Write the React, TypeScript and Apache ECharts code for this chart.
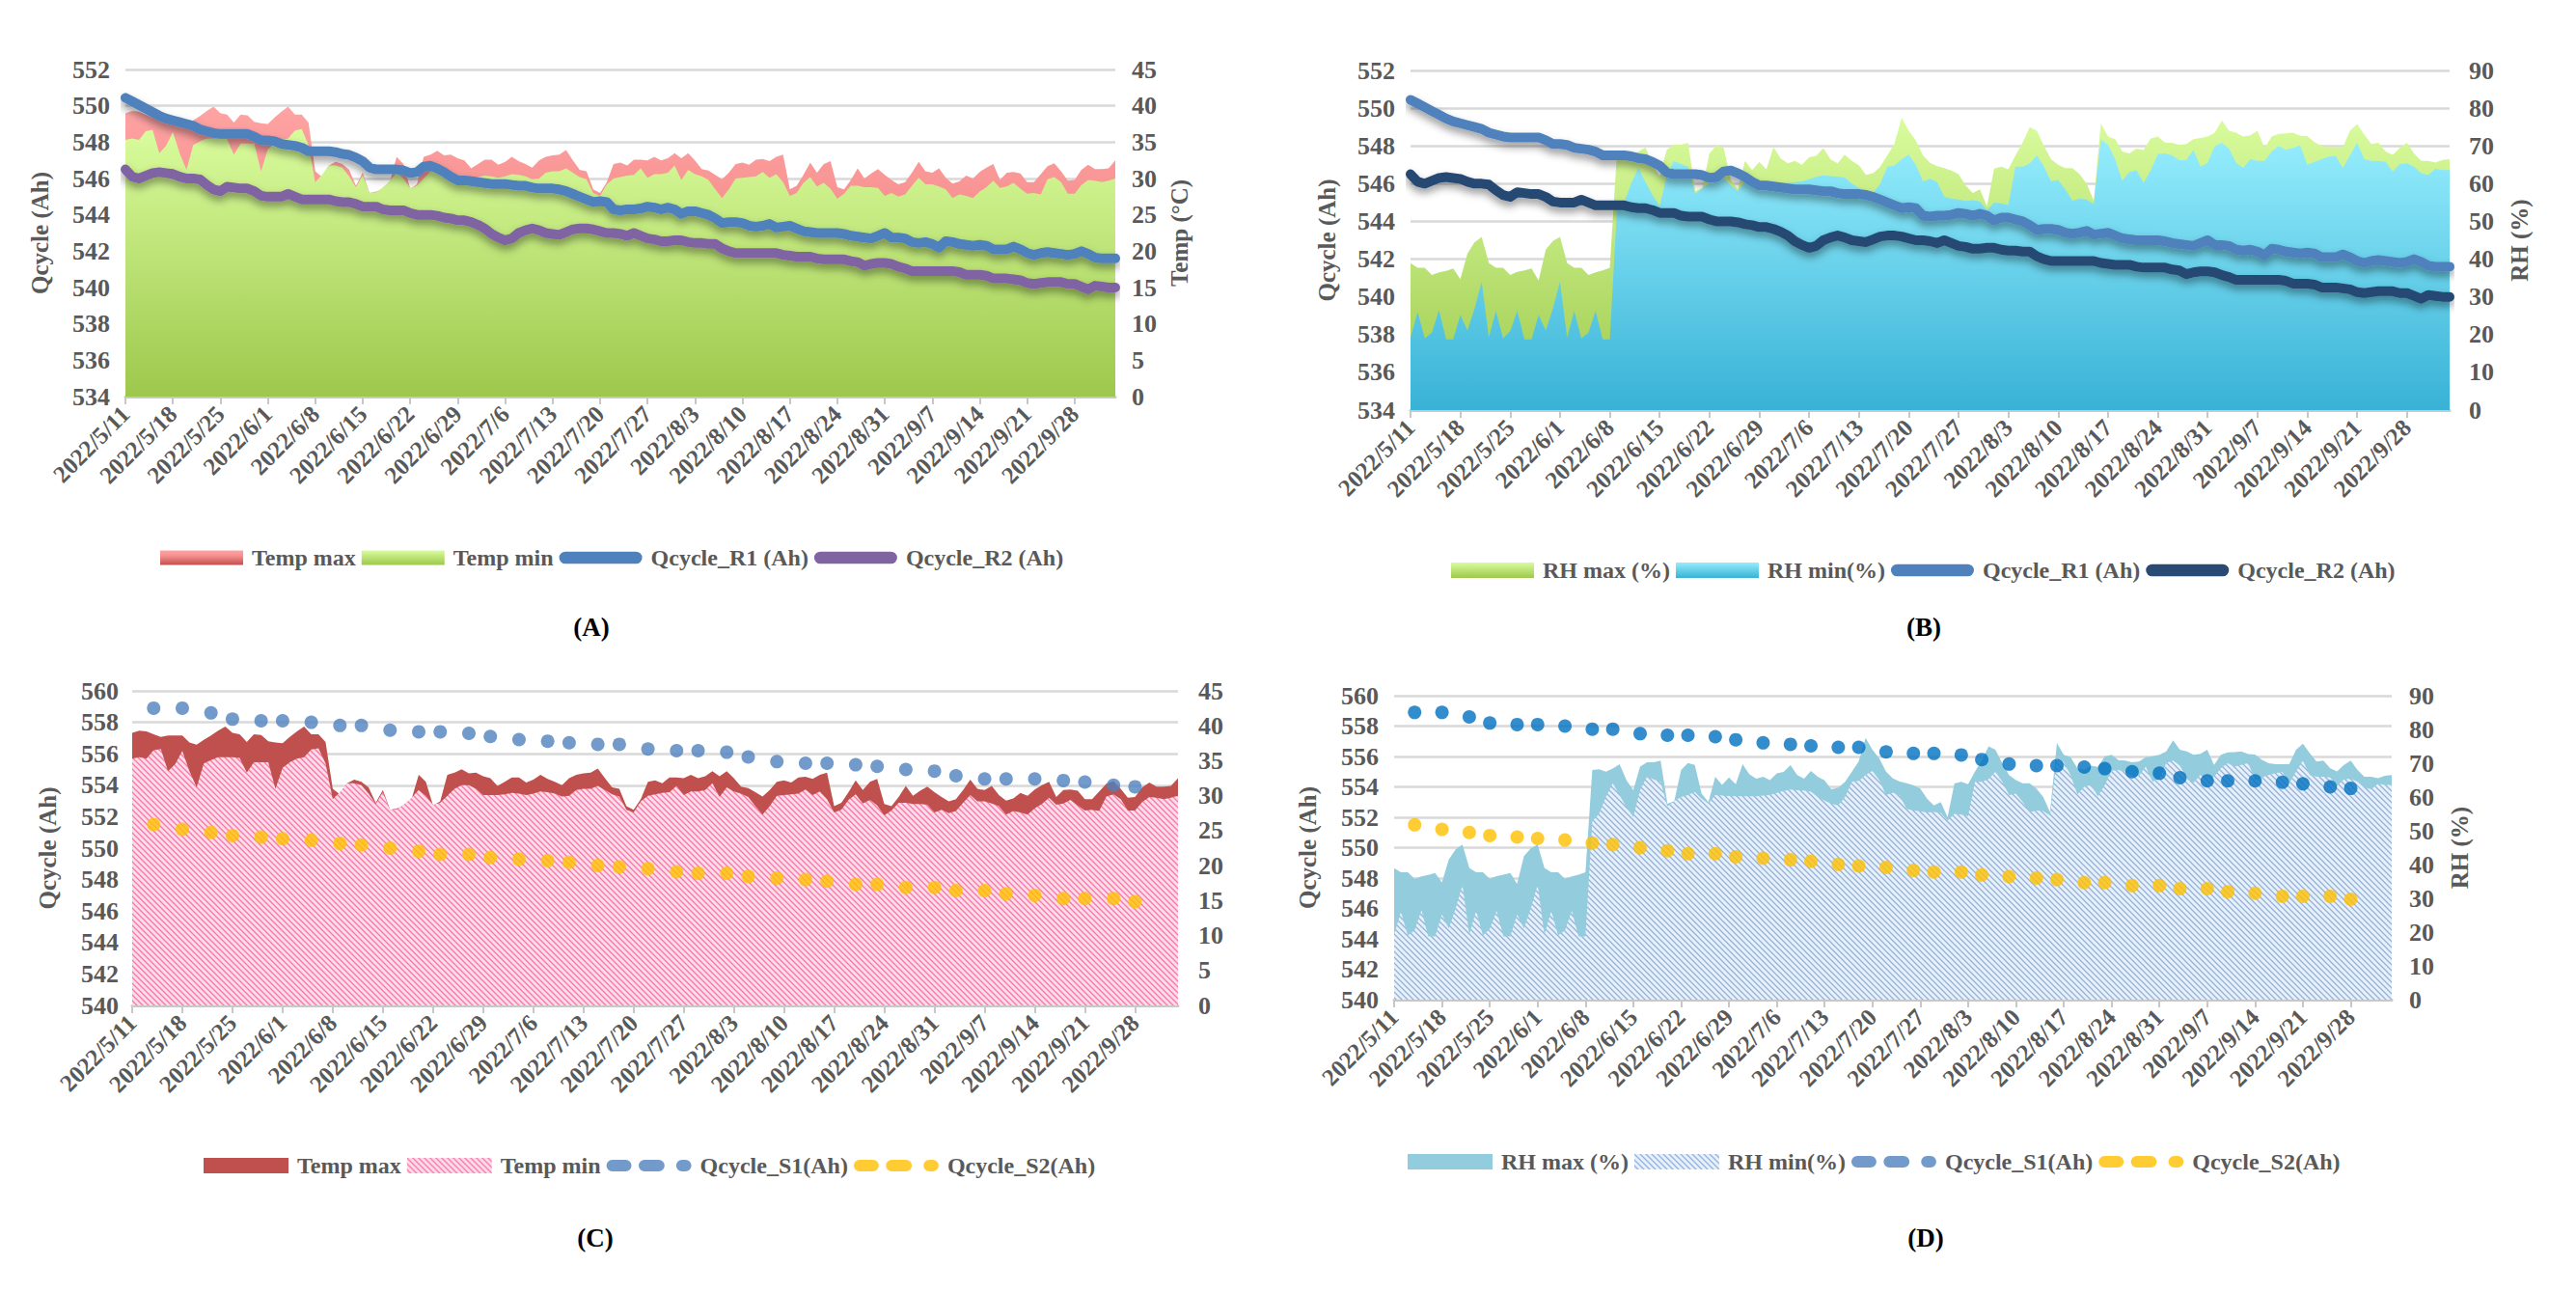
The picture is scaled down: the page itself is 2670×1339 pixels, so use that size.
import { useEffect, useRef } from 'react'
import * as echarts from 'echarts'

// daily categories 2022/5/11 .. 2022/10/4
const dates: string[] = Array.from({ length: 147 }, (_, i) => {
  const d = new Date(2022, 4, 11 + i)
  return `${d.getFullYear()}/${d.getMonth() + 1}/${d.getDate()}`
})

const tempMax = [
  39.0, 39.3, 39.2, 38.8, 38.4, 38.6, 38.6, 38.6, 37.6, 37.3,
  38.0, 38.6, 39.3, 39.9, 39.0, 38.8, 37.7, 38.8, 38.7, 37.8,
  37.6, 37.5, 38.4, 39.2, 39.9, 38.8, 38.8, 37.7, 31.0, 30.2,
  31.8, 32.3, 32.0, 31.2, 29.0, 30.8, 28.0, 28.2, 28.6, 29.5,
  33.0, 32.0, 28.6, 29.2, 33.0, 33.3, 33.8, 33.2, 33.3, 32.8,
  32.5, 31.4, 32.0, 32.6, 32.6, 31.9, 32.3, 33.0, 32.4, 32.0,
  31.5, 32.5, 33.0, 33.2, 33.3, 33.9, 32.5, 31.2, 31.0, 28.5,
  28.0, 29.5, 32.0, 32.2, 31.8, 32.6, 32.6, 32.5, 33.0, 32.5,
  32.8, 33.5, 32.8, 33.5, 32.5, 31.3, 31.1, 30.5, 29.9, 30.8,
  32.0, 32.2, 31.9, 32.6, 32.7, 32.4, 33.0, 33.3, 28.5, 29.0,
  30.5, 32.2, 30.8, 32.0, 32.4, 28.8, 28.5, 29.8, 31.4, 30.0,
  30.7, 31.3, 30.5, 29.8, 29.2, 29.5, 30.8, 32.3, 31.0, 30.8,
  31.4, 30.1, 29.3, 29.6, 30.4, 30.0, 30.9, 31.5, 32.0, 29.8,
  30.8, 30.9, 30.7, 29.5, 29.5, 30.6, 31.7, 32.1, 31.0, 29.7,
  29.8, 31.2, 31.9, 31.3, 31.3, 31.4, 32.5,
]

const tempMin = [
  35.3, 35.5, 35.3, 36.5, 36.7, 33.5, 34.5, 36.4, 33.5, 31.2,
  34.6, 35.1, 35.5, 35.5, 35.5, 35.4, 33.3, 34.8, 34.8, 34.8,
  31.0, 34.0, 34.8, 35.3, 35.5, 36.6, 36.8, 34.6, 29.5, 30.5,
  31.8, 31.8, 31.5, 30.3, 28.8, 30.5, 28.0, 28.1, 28.8, 29.7,
  30.8, 30.0, 28.7, 29.0, 30.0, 31.0, 31.5, 31.5, 31.0, 30.1,
  30.1, 30.1, 30.2, 30.4, 30.3, 30.1, 30.3, 30.6, 30.5, 30.3,
  29.9, 30.0, 30.8, 31.0, 31.0, 31.4, 30.8, 30.2, 29.9, 28.0,
  27.6, 29.2, 30.0, 30.2, 30.4, 30.5, 31.4, 30.1, 30.6, 30.6,
  30.8, 31.8, 29.8, 31.2, 30.6, 30.3, 29.8, 28.5, 27.3, 28.5,
  30.0, 30.1, 30.2, 30.3, 30.9, 30.1, 30.6, 29.5, 27.6, 28.0,
  29.4, 30.2, 28.9, 29.4, 28.6, 27.2, 27.9, 29.0, 29.0, 28.8,
  28.8, 28.7, 27.6, 28.0, 27.5, 27.8, 29.0, 30.1, 29.2, 29.2,
  28.9, 28.5, 27.3, 27.8, 27.6, 27.3, 28.2, 28.8, 29.7, 28.7,
  28.9, 29.4, 28.6, 27.9, 28.0, 27.8, 29.9, 30.2, 29.5, 27.9,
  27.9, 29.1, 29.8, 29.7, 29.5, 29.7, 30.0,
]

const rhMax = [
  38.9, 37.7, 37.7, 35.8, 36.5, 36.9, 37.5, 34.7, 41.5, 44.5,
  45.9, 39.0, 37.7, 37.7, 35.8, 36.6, 37.0, 37.5, 34.3, 42.5,
  44.8, 45.9, 39.0, 37.7, 37.7, 35.8, 36.5, 37.0, 37.7, 68.0,
  68.2, 67.5, 68.4, 69.7, 65.0, 62.0, 69.0, 70.3, 70.3, 70.8,
  58.0, 58.8, 68.0, 70.1, 69.5, 61.0, 58.5, 66.0, 63.6, 65.8,
  63.8, 69.7, 66.7, 65.4, 66.0, 65.0, 67.0, 67.4, 69.4, 66.5,
  65.4, 67.7, 66.0, 64.9, 62.3, 62.8, 64.5, 67.5, 70.6, 77.5,
  74.0, 71.4, 67.5, 65.5, 64.6, 64.1, 63.5, 62.5, 59.5, 57.5,
  58.5, 54.0, 64.0, 64.5, 63.8, 67.5, 70.8, 75.0, 74.0, 70.0,
  66.5, 65.0, 64.1, 64.1, 62.5, 60.0, 55.5, 76.0, 72.5, 71.8,
  68.5, 68.0, 69.3, 68.9, 72.0, 72.5, 70.9, 70.8, 70.3, 70.5,
  71.8, 72.1, 72.5, 73.5, 76.8, 74.0, 73.5, 72.5, 72.8, 74.0,
  69.5, 72.5, 73.2, 73.3, 73.5, 72.7, 72.6, 71.0, 70.0, 69.7,
  69.7, 69.7, 74.0, 75.8, 73.0, 70.5, 70.8, 68.5, 67.6, 69.5,
  70.8, 68.0, 66.0, 66.0, 65.6, 66.3, 66.5,
]

const rhMin = [
  19.2, 26.0, 19.0, 20.5, 26.5, 18.7, 18.7, 25.2, 21.1, 26.9,
  34.0, 19.2, 26.3, 19.0, 20.9, 26.3, 18.7, 18.7, 25.2, 21.1,
  26.9, 34.0, 19.2, 26.3, 19.0, 20.5, 26.3, 18.7, 18.7, 52.8,
  55.0, 60.0, 64.1, 60.5, 57.0, 54.1, 62.0, 66.0, 65.2, 64.5,
  57.2, 58.8, 60.0, 60.6, 61.5, 59.5, 58.0, 60.6, 60.4, 60.3,
  60.2, 60.2, 60.2, 60.2, 60.4, 60.6, 61.2, 61.8, 62.2, 62.0,
  61.9, 61.6, 60.0, 58.9, 58.0, 57.5, 60.0, 64.5, 64.8, 66.5,
  67.7, 65.0, 60.6, 61.3, 60.4, 56.5, 56.0, 55.8, 55.4, 55.6,
  55.3, 53.0, 55.0, 54.8, 54.3, 64.5, 64.5, 65.3, 67.5, 64.5,
  60.6, 61.0, 58.5, 55.5, 56.0, 55.8, 54.6, 71.8, 70.3, 66.5,
  60.8, 63.0, 63.6, 60.2, 63.5, 67.8, 68.0, 67.5, 66.2, 66.2,
  69.0, 64.5, 65.5, 70.0, 70.8, 69.3, 65.5, 64.2, 66.5, 66.0,
  66.0, 68.5, 70.0, 69.0, 69.5, 70.1, 65.0, 65.8, 66.5, 67.1,
  67.4, 64.1, 67.5, 70.8, 66.5, 66.0, 66.0, 65.8, 63.2, 65.2,
  65.4, 64.5, 62.8, 62.3, 63.9, 63.6, 63.6,
]

const qR1 = [
  550.44, 550.25, 550.05, 549.85, 549.65, 549.45, 549.3, 549.2, 549.1, 549.0,
  548.9, 548.7, 548.6, 548.5, 548.45, 548.45, 548.45, 548.45, 548.45, 548.3,
  548.1, 548.1, 548.05, 547.9, 547.85, 547.8, 547.7, 547.5, 547.5, 547.5,
  547.5, 547.45, 547.35, 547.3, 547.15, 546.95, 546.6, 546.5, 546.5, 546.5,
  546.5, 546.45, 546.3, 546.35, 546.65, 546.7, 546.55, 546.35, 546.1, 545.9,
  545.9, 545.85, 545.8, 545.75, 545.7, 545.7, 545.7, 545.65, 545.6, 545.6,
  545.5, 545.45, 545.45, 545.45, 545.4, 545.3, 545.15, 545.0, 544.85, 544.7,
  544.75, 544.7, 544.3, 544.25, 544.3, 544.3, 544.35, 544.45, 544.4, 544.3,
  544.4, 544.3, 544.05, 544.2, 544.2, 544.1, 544.0, 543.8, 543.55, 543.6,
  543.6, 543.55, 543.4, 543.35, 543.4, 543.5, 543.3, 543.35, 543.4, 543.25,
  543.1, 543.05, 543.0, 543.0, 543.0, 543.0, 542.95, 542.85, 542.8, 542.75,
  542.7, 542.85, 543.0, 542.75, 542.75, 542.7, 542.5, 542.45, 542.5, 542.4,
  542.2, 542.55, 542.5, 542.4, 542.35, 542.3, 542.35, 542.3, 542.1, 542.1,
  542.1, 542.25, 542.1, 541.9, 541.8, 541.9, 541.95, 541.9, 541.85, 541.8,
  541.85, 542.0, 541.85, 541.65, 541.6, 541.6, 541.6,
]

const qR2 = [
  546.5, 546.1, 546.0, 546.15, 546.3, 546.35, 546.3, 546.25, 546.1, 546.0,
  546.0, 545.95, 545.65, 545.4, 545.3, 545.55, 545.5, 545.45, 545.45, 545.3,
  545.05, 545.0, 545.0, 545.0, 545.15, 545.0, 544.85, 544.85, 544.85, 544.85,
  544.85, 544.75, 544.7, 544.7, 544.6, 544.45, 544.45, 544.45, 544.3, 544.25,
  544.25, 544.25, 544.1, 544.0, 544.0, 544.0, 543.95, 543.85, 543.8, 543.7,
  543.7, 543.6, 543.45, 543.25, 542.95, 542.75, 542.6, 542.7, 543.0, 543.15,
  543.25, 543.15, 543.0, 542.95, 542.9, 543.05, 543.2, 543.25, 543.25, 543.2,
  543.1, 543.0, 543.0, 542.95, 542.85, 543.0, 542.85, 542.7, 542.65, 542.55,
  542.55, 542.6, 542.6, 542.5, 542.45, 542.45, 542.4, 542.4, 542.15, 542.0,
  541.9, 541.9, 541.9, 541.9, 541.9, 541.9, 541.9, 541.8, 541.75, 541.7,
  541.7, 541.7, 541.6, 541.55, 541.55, 541.55, 541.55, 541.45, 541.4, 541.2,
  541.3, 541.35, 541.35, 541.3, 541.15, 541.05, 540.9, 540.9, 540.9, 540.9,
  540.9, 540.9, 540.9, 540.85, 540.7, 540.7, 540.7, 540.65, 540.5, 540.5,
  540.5, 540.45, 540.4, 540.25, 540.2, 540.25, 540.3, 540.3, 540.3, 540.2,
  540.2, 540.05, 539.9, 540.1, 540.05, 540.0, 540.0,
]

// twice-weekly capacity checks (panels C, D)
const sampleDates = [
  '2022/5/14', '2022/5/18', '2022/5/22', '2022/5/25', '2022/5/29', '2022/6/1', '2022/6/5', '2022/6/9',
  '2022/6/12', '2022/6/16', '2022/6/20', '2022/6/23', '2022/6/27', '2022/6/30', '2022/7/4', '2022/7/8',
  '2022/7/11', '2022/7/15', '2022/7/18', '2022/7/22', '2022/7/26', '2022/7/29', '2022/8/2', '2022/8/5',
  '2022/8/9', '2022/8/13', '2022/8/16', '2022/8/20', '2022/8/23', '2022/8/27', '2022/8/31', '2022/9/3',
  '2022/9/7', '2022/9/10', '2022/9/14', '2022/9/18', '2022/9/21', '2022/9/25', '2022/9/28',
]
const qS1 = [
  558.9, 558.9, 558.6, 558.2, 558.1, 558.1, 558.0, 557.8, 557.8, 557.5,
  557.4, 557.4, 557.3, 557.1, 556.9, 556.8, 556.7, 556.6, 556.6, 556.3,
  556.2, 556.2, 556.1, 555.8, 555.5, 555.4, 555.4, 555.3, 555.2, 555.0,
  554.9, 554.6, 554.4, 554.4, 554.4, 554.3, 554.2, 554.0, 553.9,
]
const qS2 = [
  551.5, 551.2, 551.0, 550.8, 550.7, 550.6, 550.5, 550.3, 550.2, 550.0,
  549.8, 549.6, 549.6, 549.4, 549.3, 549.2, 549.1, 548.9, 548.8, 548.7,
  548.5, 548.4, 548.4, 548.2, 548.1, 548.0, 547.9, 547.7, 547.7, 547.5,
  547.5, 547.3, 547.3, 547.1, 547.0, 546.8, 546.8, 546.8, 546.6,
]

const FONT = 'Liberation Serif, Times New Roman, serif'
const GREY = '#595959'
const txt = { fontFamily: FONT, fontWeight: 'bold' as const, color: GREY }

const capsule =
  'path://M0,0M88,15M6.5,1L81.5,1A6.5,6.5,0,0,1,81.5,14L6.5,14A6.5,6.5,0,0,1,6.5,1Z'
const dotted =
  'path://M0,0M94,16M6,1.5L21,1.5A6.5,6.5,0,0,1,21,14.5L6,14.5A6.5,6.5,0,0,1,6,1.5Z' +
  'M42,1.5L58,1.5A6.5,6.5,0,0,1,58,14.5L42,14.5A6.5,6.5,0,0,1,42,1.5Z' +
  'M84,1.5L88,1.5A6.5,6.5,0,0,1,88,14.5L84,14.5A6.5,6.5,0,0,1,84,1.5Z'

const grad = (top: string, bottom: string, mid?: string) => ({
  type: 'linear', x: 0, y: 0, x2: 0, y2: 1,
  colorStops: mid
    ? [{ offset: 0, color: top }, { offset: 0.35, color: mid }, { offset: 1, color: bottom }]
    : [{ offset: 0, color: top }, { offset: 1, color: bottom }],
})

function hatch(bg: string, fg: string) {
  const c = document.createElement('canvas')
  c.width = 6
  c.height = 6
  const g = c.getContext('2d')!
  g.fillStyle = bg
  g.fillRect(0, 0, 6, 6)
  g.strokeStyle = fg
  g.lineWidth = 1.3
  g.beginPath()
  g.moveTo(0, 0); g.lineTo(6, 6)
  g.moveTo(-3, 3); g.lineTo(3, 9)
  g.moveTo(3, -3); g.lineTo(9, 3)
  g.stroke()
  return { image: c.toDataURL(), repeat: 'repeat', imageWidth: 6, imageHeight: 6 }
}

function xAxis() {
  return {
    type: 'category', data: dates, boundaryGap: false,
    axisLine: { lineStyle: { color: '#c8c8c8', width: 3 } },
    axisTick: { interval: 6, length: 8, lineStyle: { color: '#c8c8c8', width: 2 } },
    axisLabel: { ...txt, interval: 6, rotate: 45, margin: 14, fontSize: 25 },
    splitLine: { show: false },
  }
}

function leftAxis(min: number, max: number, nameGap: number, margin: number) {
  return {
    type: 'value', position: 'left', min, max, interval: 2,
    name: 'Qcycle (Ah)', nameLocation: 'middle', nameRotate: 90, nameGap,
    nameTextStyle: { ...txt, fontSize: 25 },
    axisLabel: { ...txt, fontSize: 26, margin },
    axisLine: { show: false }, axisTick: { show: false },
    splitLine: { lineStyle: { color: '#d9d9d9', width: 2.5 } },
  }
}

function rightAxis(max: number, interval: number, name: string, nameGap: number, margin: number) {
  return {
    type: 'value', position: 'right', min: 0, max, interval,
    name, nameLocation: 'middle', nameRotate: 90, nameGap,
    nameTextStyle: { ...txt, fontSize: 25 },
    axisLabel: { ...txt, fontSize: 26, margin },
    axisLine: { show: false }, axisTick: { show: false },
    splitLine: { show: false },
  }
}

function area(name: string, data: number[], fill: any, z: number) {
  return {
    name, type: 'line', data, yAxisIndex: 1, symbol: 'none', z,
    lineStyle: { width: 0 },
    areaStyle: { color: fill, opacity: 1 },
  }
}

function qLine(name: string, data: number[], color: string) {
  return {
    name, type: 'line', data, yAxisIndex: 0, symbol: 'none', z: 5,
    itemStyle: { color },
    lineStyle: {
      color, width: 10, cap: 'round', join: 'round',
      shadowColor: 'rgba(0,0,0,0.4)', shadowBlur: 8, shadowOffsetY: 5,
    },
  }
}

function dots(name: string, values: number[], color: string) {
  return {
    name, type: 'scatter', yAxisIndex: 0, z: 6, symbolSize: 14,
    data: sampleDates.map((d, i) => [d, values[i]]),
    itemStyle: { color },
  }
}

function legend(left: number, top: number, w: number, h: number, data: any[]) {
  return {
    left, top, itemGap: 6, itemWidth: w, itemHeight: h,
    textStyle: { ...txt, fontSize: 24, padding: [0, 0, 0, 4] },
    data,
  }
}

function title(x: number, y: number, text: string) {
  return {
    type: 'text', x, y,
    style: {
      text, fill: '#000', fontFamily: FONT, fontWeight: 'bold', fontSize: 27,
      align: 'center', verticalAlign: 'middle', textAlign: 'center', textVerticalAlign: 'middle',
    },
  }
}

const pinkGrad = () => grad('#ffa3a3', '#c0504d', '#f79191')
const greenGrad = () => grad('#d9fc9d', '#9dc84c')
const cyanGrad = () => grad('#95edfd', '#38b2d6')

function optionA(): any {
  return {
    animation: false,
    grid: { left: 130, top: 72, width: 1026, height: 339 },
    xAxis: xAxis(),
    yAxis: [leftAxis(534, 552, 76, 16), rightAxis(45, 5, 'Temp (°C)', 34, 17)],
    legend: legend(161, 561, 86, 15, [
      { name: 'Temp max', icon: 'rect', itemStyle: { color: pinkGrad() } },
      { name: 'Temp min', icon: 'rect', itemStyle: { color: greenGrad() } },
      { name: 'Qcycle_R1 (Ah)', icon: capsule, itemStyle: { color: '#4f81bd' } },
      { name: 'Qcycle_R2 (Ah)', icon: capsule, itemStyle: { color: '#8064a2' } },
    ]),
    series: [
      area('Temp max', tempMax, pinkGrad(), 1),
      area('Temp min', tempMin, greenGrad(), 2),
      qLine('Qcycle_R1 (Ah)', qR1, '#4f81bd'),
      qLine('Qcycle_R2 (Ah)', qR2, '#8064a2'),
    ],
    graphic: [title(613, 650, '(A)')],
  }
}

function optionB(): any {
  return {
    animation: false,
    grid: { left: 127, top: 73, width: 1077, height: 352 },
    xAxis: xAxis(),
    yAxis: [leftAxis(534, 552, 74, 16), rightAxis(90, 10, 'RH (%)', 60, 20)],
    legend: legend(164, 574, 86, 16, [
      { name: 'RH max (%)', icon: 'rect', itemStyle: { color: greenGrad() } },
      { name: 'RH min(%)', icon: 'rect', itemStyle: { color: cyanGrad() } },
      { name: 'Qcycle_R1 (Ah)', icon: capsule, itemStyle: { color: '#4f81bd' } },
      { name: 'Qcycle_R2 (Ah)', icon: capsule, itemStyle: { color: '#284a73' } },
    ]),
    series: [
      area('RH max (%)', rhMax, greenGrad(), 1),
      area('RH min(%)', rhMin, cyanGrad(), 2),
      qLine('Qcycle_R1 (Ah)', qR1, '#4f81bd'),
      qLine('Qcycle_R2 (Ah)', qR2, '#284a73'),
    ],
    graphic: [title(659, 650, '(B)')],
  }
}

function optionC(): any {
  const pinkHatch = hatch('#fddbe8', '#f27aa8')
  return {
    animation: false,
    grid: { left: 137, top: 26, width: 1084, height: 326 },
    xAxis: xAxis(),
    yAxis: [leftAxis(540, 560, 75, 14), rightAxis(45, 5, '', 0, 21)],
    legend: legend(206, 501, 88, 16, [
      { name: 'Temp max', icon: 'rect', itemStyle: { color: '#c0504d' } },
      { name: 'Temp min', icon: 'rect', itemStyle: { color: pinkHatch } },
      { name: 'Qcycle_S1(Ah)', icon: dotted, itemStyle: { color: '#4f81bd' } },
      { name: 'Qcycle_S2(Ah)', icon: dotted, itemStyle: { color: '#ffc000' } },
    ]),
    series: [
      area('Temp max', tempMax, '#c0504d', 1),
      area('Temp min', tempMin, pinkHatch, 2),
      dots('Qcycle_S1(Ah)', qS1, '#4f81bd'),
      dots('Qcycle_S2(Ah)', qS2, '#ffc000'),
    ],
    graphic: [title(617, 593, '(C)')],
  }
}

function optionD(): any {
  const blueHatch = hatch('#e8f0fa', '#93b3de')
  return {
    animation: false,
    grid: { left: 79, top: 31, width: 1065, height: 315 },
    xAxis: xAxis(),
    yAxis: [leftAxis(540, 560, 77, 16), rightAxis(90, 10, 'RH (%)', 58, 18)],
    legend: legend(119, 497, 88, 16, [
      { name: 'RH max (%)', icon: 'rect', itemStyle: { color: '#93cddd' } },
      { name: 'RH min(%)', icon: 'rect', itemStyle: { color: blueHatch } },
      { name: 'Qcycle_S1(Ah)', icon: dotted, itemStyle: { color: '#4f81bd' } },
      { name: 'Qcycle_S2(Ah)', icon: dotted, itemStyle: { color: '#ffc000' } },
    ]),
    series: [
      area('RH max (%)', rhMax, '#93cddd', 1),
      area('RH min(%)', rhMin, blueHatch, 2),
      dots('Qcycle_S1(Ah)', qS1, '#0070c0'),
      dots('Qcycle_S2(Ah)', qS2, '#ffc000'),
    ],
    graphic: [title(661, 593, '(D)')],
  }
}

function Panel({ build, left, top, width, height }: {
  build: () => any; left: number; top: number; width: number; height: number
}) {
  const ref = useRef<HTMLDivElement | null>(null)

  useEffect(() => {
    if (!ref.current) return
    const chart = echarts.init(ref.current, null, { renderer: 'svg' })
    chart.setOption(build())
    return () => chart.dispose()
  }, [build])

  return <div ref={ref} style={{ position: 'absolute', left, top, width, height }} />
}

export default function App() {
  useEffect(() => {
    document.body.style.margin = '0'
  }, [])

  return (
    <div style={{ position: 'relative', width: 2670, height: 1339, background: '#fff' }}>
      <Panel build={optionA} left={0} top={0} width={1335} height={690} />
      <Panel build={optionB} left={1335} top={0} width={1335} height={690} />
      <Panel build={optionC} left={0} top={690} width={1335} height={649} />
      <Panel build={optionD} left={1335} top={690} width={1335} height={649} />
    </div>
  )
}
